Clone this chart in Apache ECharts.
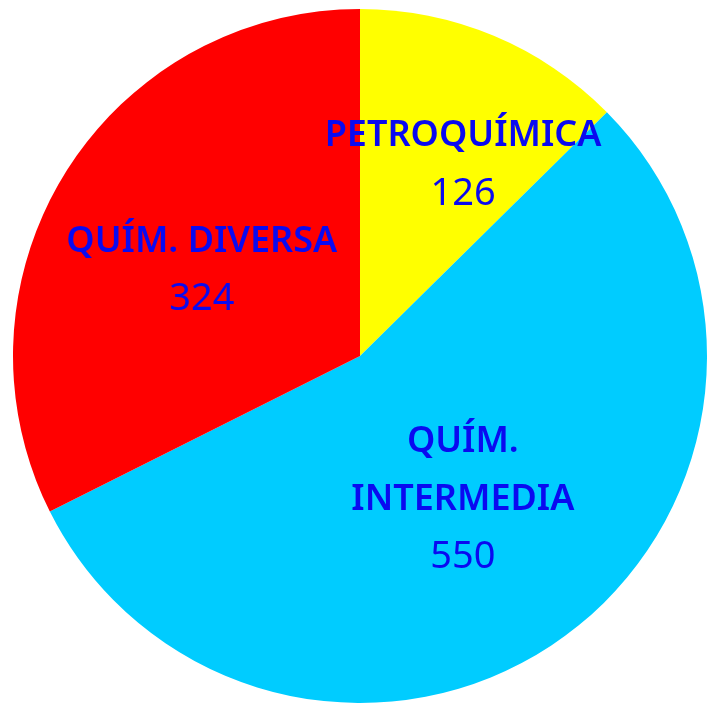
<!DOCTYPE html>
<html>
<head>
<meta charset="utf-8">
<script src="https://cdn.jsdelivr.net/npm/echarts@6/dist/echarts.min.js"></script>
<style>
  html, body { margin: 0; padding: 0; background: #ffffff; }
  #chart { width: 712px; height: 707px; }
</style>
</head>
<body>
<div id="chart"></div>
<script>
  // datos del gráfico
  var categories = ['PETROQUÍMICA', 'QUÍM.\nINTERMEDIA', 'QUÍM. DIVERSA'];
  var values = [126, 550, 324];
  var sliceColors = ['#ffff00', '#00ccff', '#ff0000'];
  // desplazamiento de etiquetas
  var labelOffsets = [[35, -28], [0, 0], [-8, 7]];

  var myChart = echarts.init(document.getElementById('chart'));

  var seriesData = [];
  for (var i = 0; i < categories.length; i++) {
    seriesData.push({
      name: categories[i],
      value: values[i],
      itemStyle: { color: sliceColors[i] },
      label: { offset: labelOffsets[i] }
    });
  }

  var option = {
    backgroundColor: '#ffffff',
    animation: false,
    series: [{
      type: 'pie',
      center: [360, 356],
      radius: [0, 347],
      startAngle: 90,
      clockwise: true,
      avoidLabelOverlap: false,
      itemStyle: { borderWidth: 0 },
      label: {
        show: true,
        position: 'inside',
        formatter: function (p) {
          var lines = p.name.split('\n');
          var out = [];
          for (var k = 0; k < lines.length; k++) {
            out.push('{n|' + lines[k] + '}');
          }
          out.push('{v|' + p.value + '}');
          return out.join('\n');
        },
        rich: {
          n: {
            fontFamily: 'Noto Sans',
            fontSize: 36,
            fontWeight: 600,
            color: '#0a0af0',
            lineHeight: 58
          },
          v: {
            fontFamily: 'Noto Sans',
            fontSize: 38,
            fontWeight: 'normal',
            color: '#0a0af0',
            lineHeight: 58
          }
        }
      },
      labelLine: { show: false },
      emphasis: { disabled: true },
      data: seriesData
    }]
  };
  myChart.setOption(option);
</script>
</body>
</html>
